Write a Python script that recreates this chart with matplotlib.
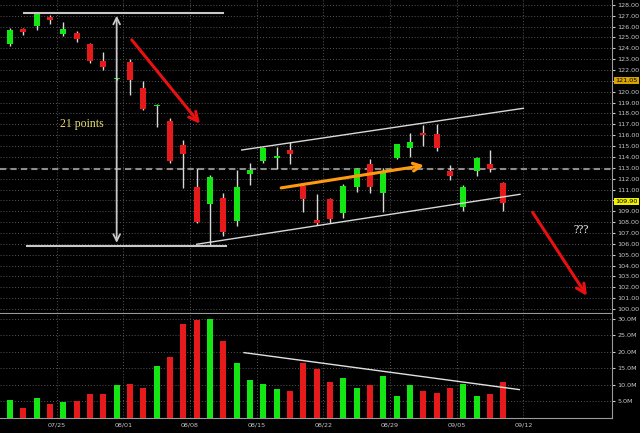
import matplotlib.pyplot as plt

# daily candles, index 0 = 07/19
opens = [124.40, 125.78, 126.09, 126.92, 125.35, 125.44, 124.40, 122.86, 121.15, 122.74,
         120.32, 118.68, 117.28, 115.10, 111.21, 109.64, 110.19, 108.13, 112.43, 113.66,
         113.93, 114.64, 111.35, 108.20, 110.10, 108.81, 111.21, 113.32, 110.71, 113.93,
         114.80, 116.12, 116.09, 112.71, 109.36, 112.73, 113.32, 111.63]
highs = [125.85, 125.87, 127.28, 127.07, 126.40, 125.60, 124.45, 123.69, 121.25, 122.99,
         121.02, 118.85, 117.59, 115.56, 113.01, 112.34, 110.65, 112.80, 113.47, 114.94,
         114.89, 115.41, 111.57, 110.59, 110.25, 111.48, 113.01, 113.78, 113.01, 115.20,
         116.18, 116.94, 117.03, 113.26, 111.42, 114.02, 114.64, 111.72]
lows = [124.24, 125.23, 125.69, 126.22, 125.14, 124.61, 122.68, 122.01, 121.10, 119.71,
        118.35, 116.79, 113.47, 111.17, 107.95, 105.89, 106.75, 107.64, 111.42, 113.42,
        112.89, 113.32, 108.90, 107.73, 107.89, 108.35, 110.80, 110.71, 108.96, 113.81,
        114.02, 115.01, 114.58, 111.88, 109.05, 112.27, 112.59, 109.05]
closes = [125.69, 125.53, 127.14, 126.61, 125.78, 124.86, 122.84, 122.26, 121.20, 121.09,
          118.39, 118.75, 113.66, 114.25, 108.04, 112.18, 107.06, 111.21, 112.80, 114.80,
          114.00, 114.25, 110.13, 107.89, 108.29, 111.35, 112.89, 111.21, 112.59, 115.17,
          115.41, 116.06, 114.85, 112.27, 111.21, 113.93, 112.89, 109.79]
volumes = [5.45, 2.9, 6.0, 4.1, 4.8, 5.2, 7.3, 7.2, 9.9, 10.2,
           9.1, 15.8, 18.5, 28.5, 29.6, 30.0, 23.3, 16.7, 11.5, 10.2,
           8.7, 8.2, 16.7, 14.9, 10.8, 12.1, 9.1, 9.9, 12.8, 6.7,
           9.9, 8.1, 7.5, 9.1, 10.3, 6.6, 7.3, 10.8]
week_pos = [3.5, 8.5, 13.5, 18.5, 23.5, 28.5, 33.5, 38.5]
week_labels = ['07/25', '08/01', '08/08', '08/15', '08/22', '08/29', '09/05', '09/12']
price_ticks = list(range(100, 129))
vol_ticks = [5, 10, 15, 20, 25, 30]
hi_marker = 121.05
last_price = 109.90

GREEN = '#14e614'
RED = '#e61a1a'
GRID = '#555555'
TXT = '#c8c8c8'

fig = plt.figure(figsize=(6.4, 4.33), dpi=100, facecolor='black')
ax = fig.add_axes([0, 0.2771, 0.95625, 0.7229], facecolor='black')
axv = fig.add_axes([0, 0.03464, 0.95625, 0.2402], facecolor='black', sharex=ax)

n = len(opens)
xs = list(range(n))
cols = [GREEN if c >= o else RED for o, c in zip(opens, closes)]

# candles
ax.vlines(xs, lows, highs, color='#d8d8d8', lw=1, zorder=3)
bottoms = [min(o, c) for o, c in zip(opens, closes)]
heights = [max(abs(c - o), 0.12) for o, c in zip(opens, closes)]
ax.bar(xs, heights, bottom=bottoms, width=0.45, color=cols, zorder=4)

# volume
axv.bar(xs, volumes, width=0.45, color=cols, zorder=3)

for a in (ax, axv):
    a.set_xlim(-0.75, 45.15)
    a.set_xticks(week_pos)
    a.grid(True, color=GRID, linestyle=(0, (1, 2)), lw=0.7)
    a.set_axisbelow(True)
    a.yaxis.tick_right()
    a.tick_params(axis='y', colors=TXT, labelsize=4.6, length=2, pad=2)
    a.tick_params(axis='x', colors=TXT, labelsize=4.6, length=0, pad=3)
    for s in ('left', 'top', 'bottom'):
        a.spines[s].set_visible(False)
    a.spines['right'].set_color('#9a9a9a')

ax.set_ylim(99.63, 128.45)
ax.set_yticks(price_ticks)
# the boxed prices cover the nearest tick label
ax.set_yticklabels(['' if abs(p - hi_marker) < 0.5 or abs(p - last_price) < 0.5 else '%.2f' % p
                    for p in price_ticks])
ax.tick_params(axis='x', labelbottom=False)
ax.spines['bottom'].set_visible(True)
ax.spines['bottom'].set_color('#9a9a9a')

axv.set_ylim(0, 31.5)
axv.set_yticks(vol_ticks)
axv.set_yticklabels(['%.1fM' % v for v in vol_ticks])
axv.set_xticklabels(week_labels)
axv.spines['bottom'].set_visible(True)
axv.spines['bottom'].set_color('#9a9a9a')

# last price line and boxes
ax.axhline(112.85, color='#8c8c8c', lw=1.5, linestyle=(0, (3, 2)), zorder=2)
tr = ax.get_yaxis_transform()
ax.text(1.006, hi_marker, '%.2f' % hi_marker, transform=tr, fontsize=4.6, color='black',
        va='center', ha='left', bbox=dict(boxstyle='square,pad=0.2', fc='#d9a400', ec='none'),
        clip_on=False, zorder=10)
ax.text(1.006, last_price, '%.2f' % last_price, transform=tr, fontsize=4.6, color='black',
        va='center', ha='left', bbox=dict(boxstyle='square,pad=0.2', fc='#f0f000', ec='none'),
        clip_on=False, zorder=10)

# drawings
ax.plot([1.07, 15.95], [127.26, 127.26], color='#c8c8c8', lw=1.5, zorder=5)
ax.plot([1.25, 16.2], [105.83, 105.83], color='#c8c8c8', lw=1.5, zorder=5)
ax.annotate('', xy=(8.0, 127.26), xytext=(8.0, 105.83),
            arrowprops=dict(arrowstyle='<->', color='#c8c8c8', lw=1.3, mutation_scale=12), zorder=5)
ax.text(5.4, 117.0, '21 points', family='Liberation Serif', fontsize=8.5, color='#e8dc70',
        ha='center', va='center', zorder=6)
ax.annotate('', xy=(14.38, 116.85), xytext=(9.0, 124.98),
            arrowprops=dict(arrowstyle='->', color='#e81010', lw=2.2, mutation_scale=16), zorder=6)
ax.plot([17.38, 38.5], [114.64, 118.48], color='#d8d8d8', lw=1, zorder=5)
ax.plot([14.0, 38.25], [105.96, 110.56], color='#d8d8d8', lw=1, zorder=5)
ax.annotate('', xy=(31.26, 113.26), xytext=(20.13, 111.11),
            arrowprops=dict(arrowstyle='->', color='#ff9a10', lw=2.2, mutation_scale=14), zorder=6)
ax.annotate('', xy=(43.38, 100.99), xytext=(39.08, 109.12),
            arrowprops=dict(arrowstyle='->', color='#e81010', lw=2.2, mutation_scale=16), zorder=6)
ax.text(42.8, 107.3, '???', family='Liberation Serif', fontsize=8.5, color='white',
        ha='center', va='center', zorder=6)

axv.plot([17.55, 38.2], [19.8, 8.6], color='#e0e0e0', lw=1, zorder=5)

fig.savefig('out.png', dpi=100, facecolor='black')
